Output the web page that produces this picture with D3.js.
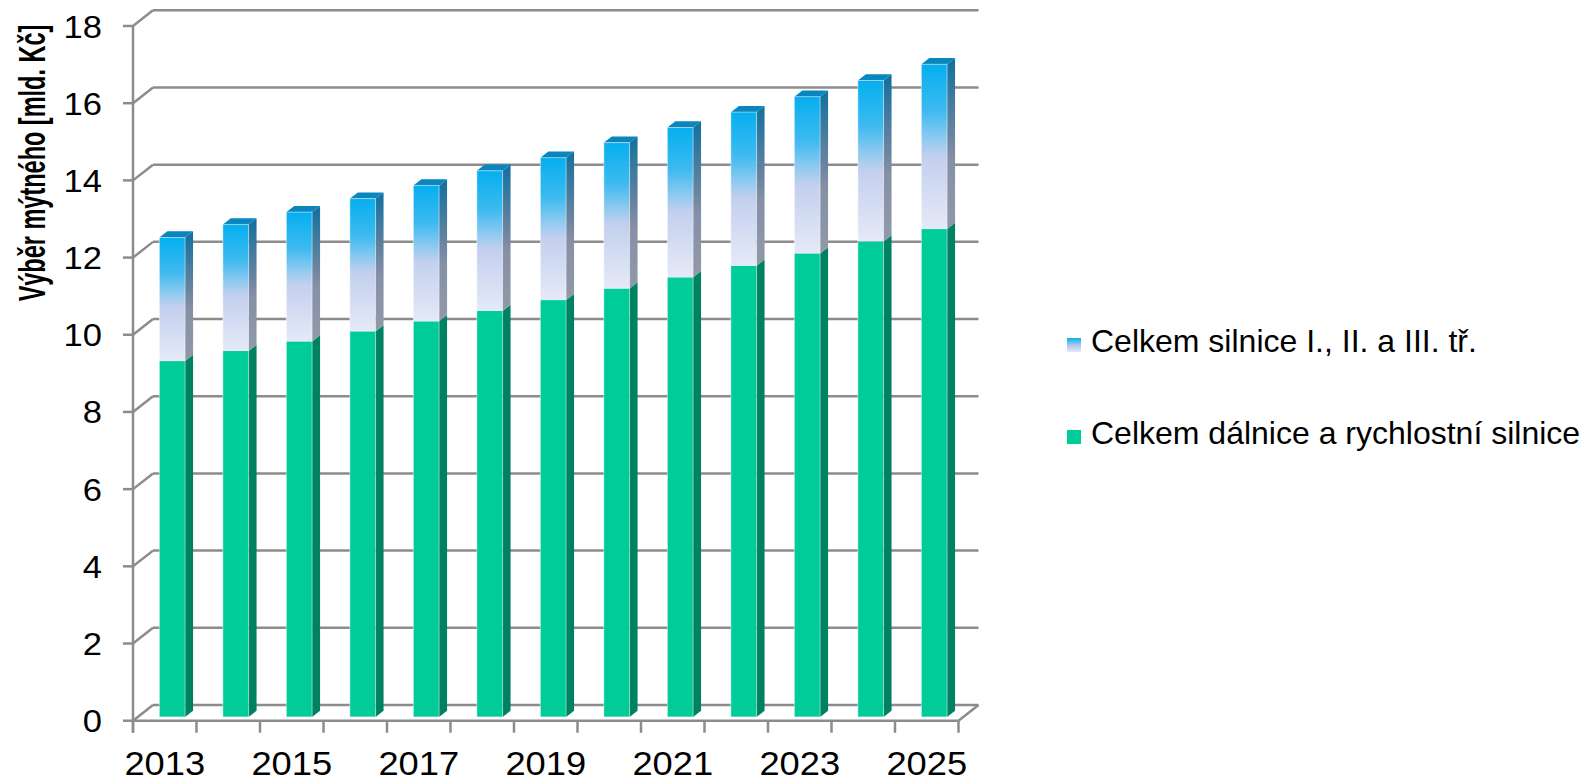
<!DOCTYPE html>
<html>
<head>
<meta charset="utf-8">
<script src="https://cdn.jsdelivr.net/npm/d3@7"></script>
<style>
  html, body { margin: 0; padding: 0; background: #fff; }
  svg { display: block; font-family: "Liberation Sans", Arial, sans-serif; }
</style>
</head>
<body>
<svg id="chart" width="1585" height="781"></svg>
<script>
// ---- data ----
const years = ["2013","2014","2015","2016","2017","2018","2019","2020","2021","2022","2023","2024","2025"];
const dalnice = [9.22, 9.48, 9.73, 9.99, 10.25, 10.52, 10.80, 11.10, 11.39, 11.69, 12.01, 12.32, 12.64];
const silnice = [3.20, 3.28, 3.35, 3.44, 3.52, 3.63, 3.69, 3.78, 3.88, 3.98, 4.06, 4.17, 4.27];
const yTicks = [0, 2, 4, 6, 8, 10, 12, 14, 16, 18];
const xTickLabels = ["2013","2015","2017","2019","2021","2023","2025"];
const seriesNames = ["Celkem silnice I., II. a III. tř.", "Celkem dálnice a rychlostní silnice"];
const yTitle = "Výběr mýtného [mld. Kč]";

(function () {
// ---- layout ----
const svg = d3.select("#chart");
const pLeft = 133, pRight = 958.5, pTop = 26, pBottom = 720.7;
const wallDx = 20, wallDy = -15.7;         // depth offset of back wall
const barDepthDy = -3.8;                    // bars set back from front edge
const sideDx = 8, sideDy = -6.2;            // bar depth
const gridColor = "#8c8c8c";

const x = d3.scaleBand().domain(years).range([pLeft, pRight]);
const y = d3.scaleLinear().domain([0, 18]).range([pBottom, pTop]);

// gradients
const defs = svg.append("defs");
function grad(id, stops) {
  const g = defs.append("linearGradient").attr("id", id)
    .attr("x1", 0).attr("y1", 0).attr("x2", 0).attr("y2", 1);
  stops.forEach(s => g.append("stop").attr("offset", s[0]).attr("stop-color", s[1]));
}
grad("upFront", [[0, "#05aff0"], [0.28, "#3dbaf0"], [0.45, "#8ecaf0"], [0.56, "#c3cfee"], [1, "#e5eaf7"]]);
grad("upSide", [[0, "#10709e"], [0.45, "#6a84a0"], [0.6, "#8690a6"], [1, "#9199a8"]]);
grad("legUp", [[0, "#05aff0"], [0.5, "#a8c8ef"], [1, "#e5eaf7"]]);

// ---- back wall gridlines + diagonals ----
const grid = svg.append("g");
function ln(x1, y1, x2, y2) {
  grid.append("line").attr("x1", x1).attr("y1", y1).attr("x2", x2).attr("y2", y2)
    .attr("stroke", gridColor).attr("stroke-width", 2.5);
}
yTicks.forEach(t => {
  const yf = y(t);
  ln(pLeft + wallDx, yf + wallDy, pRight + wallDx, yf + wallDy);
  ln(pLeft, yf, pLeft + wallDx, yf + wallDy);
  ln(pLeft - 10, yf, pLeft, yf);
});
ln(pLeft, y(0), pRight, y(0));
ln(pRight, y(0), pRight + wallDx, y(0) + wallDy);
ln(pLeft, y(18), pLeft, y(0) + 12);
years.forEach(yr => ln(x(yr), y(0), x(yr), y(0) + 12));
ln(pRight, y(0), pRight, y(0) + 12);

// ---- bars ----
const bw = x.bandwidth();
const barW = bw * 0.405;
const barOff = bw * 0.415;
const bars = svg.append("g");
function yb(v) { return y(v) + barDepthDy; }

years.forEach((yr, i) => {
  const x0 = x(yr) + barOff, x1 = x0 + barW;
  const g0 = yb(0), g1 = yb(dalnice[i]), t1 = yb(dalnice[i] + silnice[i]);
  const g = bars.append("g");
  g.append("rect").attr("x", x0).attr("y", g1).attr("width", barW).attr("height", g0 - g1)
    .attr("fill", "#00cc99");
  g.append("path").attr("d", `M${x1},${g1} L${x1 + sideDx},${g1 + sideDy} L${x1 + sideDx},${g0 + sideDy} L${x1},${g0} Z`)
    .attr("fill", "#008262");
  g.append("rect").attr("x", x0).attr("y", t1).attr("width", barW).attr("height", g1 - t1)
    .attr("fill", "url(#upFront)");
  g.append("path").attr("d", `M${x1},${t1} L${x1 + sideDx},${t1 + sideDy} L${x1 + sideDx},${g1 + sideDy} L${x1},${g1} Z`)
    .attr("fill", "url(#upSide)");
  g.append("path").attr("d", `M${x0},${t1} L${x0 + sideDx},${t1 + sideDy} L${x1 + sideDx},${t1 + sideDy} L${x1},${t1} Z`)
    .attr("fill", "#0a86bf");
  g.append("rect").attr("x", x0).attr("y", t1).attr("width", barW).attr("height", g0 - t1)
    .attr("fill", "none").attr("stroke", "rgba(255,255,255,0.45)").attr("stroke-width", 1);
});

// ---- axis labels ----
const txt = svg.append("g").attr("fill", "#000");
yTicks.forEach(t => {
  txt.append("text").attr("transform", `translate(102,${y(t)}) scale(1.08,1)`).attr("dy", "0.36em")
    .attr("text-anchor", "end").attr("font-size", 32).text(t);
});
xTickLabels.forEach(l => {
  txt.append("text").attr("transform", `translate(${x(l) + bw / 2},775) scale(1.1,1)`)
    .attr("text-anchor", "middle").attr("font-size", 33).text(l);
});
txt.append("text").attr("transform", "translate(45,163) rotate(-90) scale(1,1.6)")
  .attr("text-anchor", "middle").attr("font-size", 23.5).attr("font-weight", "bold")
  .text(yTitle);

// ---- legend ----
const legY = [352, 444];
const legFill = ["url(#legUp)", "#00cc99"];
seriesNames.forEach((n, i) => {
  svg.append("rect").attr("x", 1067).attr("y", legY[i] - 14).attr("width", 14).attr("height", 14)
    .attr("fill", legFill[i]);
  svg.append("text").attr("x", 1091).attr("y", legY[i]).attr("font-size", 32).attr("fill", "#000").text(n);
});
})();
</script>
</body>
</html>
